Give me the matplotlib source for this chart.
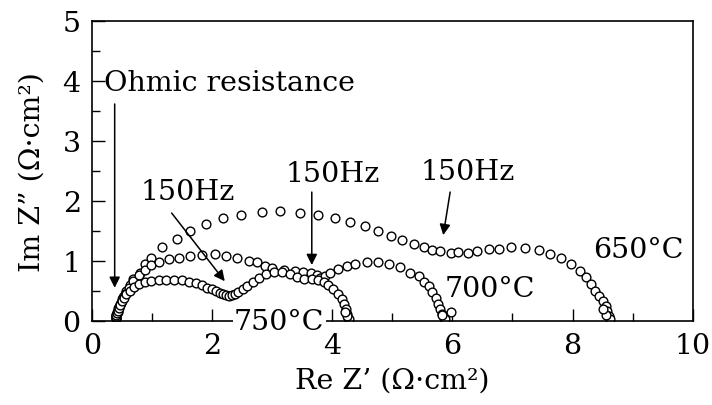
import matplotlib.pyplot as plt
from matplotlib.ticker import MultipleLocator

plt.rcParams['font.family'] = ['DejaVu Serif']
plt.rcParams['mathtext.fontset'] = 'dejavuserif'

# --- Nyquist data (Re Z', Im Z'') ---
re_750 = [0.40, 0.40, 0.41, 0.42, 0.43, 0.45, 0.47, 0.50, 0.53, 0.57, 0.63, 0.70,
          0.78, 0.88, 0.99, 1.11, 1.24, 1.37, 1.50, 1.62, 1.73, 1.83, 1.92, 2.00,
          2.07, 2.13, 2.18, 2.23, 2.28, 2.33, 2.38, 2.44, 2.51, 2.59, 2.68, 2.78,
          2.90, 3.03, 3.17, 3.30, 3.41, 3.53, 3.66, 3.77, 3.86, 3.93, 4.02, 4.10,
          4.16, 4.20, 4.23, 4.24, 4.27, 4.28, 4.25, 4.22]
im_750 = [0.03, 0.06, 0.09, 0.12, 0.16, 0.21, 0.26, 0.32, 0.38, 0.44, 0.50, 0.56,
          0.61, 0.64, 0.66, 0.67, 0.68, 0.68, 0.67, 0.65, 0.62, 0.59, 0.55, 0.52,
          0.49, 0.46, 0.44, 0.42, 0.41, 0.42, 0.44, 0.47, 0.52, 0.58, 0.64, 0.71,
          0.77, 0.81, 0.81, 0.78, 0.73, 0.70, 0.69, 0.68, 0.64, 0.60, 0.52, 0.44,
          0.36, 0.28, 0.19, 0.11, 0.05, 0.02, 0.08, 0.14]

re_700 = [0.40, 0.41, 0.42, 0.44, 0.47, 0.51, 0.56, 0.62, 0.69, 0.78, 0.88, 0.99,
          1.12, 1.28, 1.45, 1.63, 1.84, 2.05, 2.24, 2.41, 2.61, 2.74, 2.88, 3.00,
          3.19, 3.38, 3.52, 3.64, 3.74, 3.80, 3.88, 3.96, 4.10, 4.24, 4.38, 4.58,
          4.77, 4.94, 5.13, 5.30, 5.44, 5.52, 5.61, 5.66, 5.72, 5.76, 5.80, 5.83,
          5.86, 5.88, 5.82, 5.97]
im_700 = [0.05, 0.10, 0.15, 0.21, 0.28, 0.36, 0.45, 0.55, 0.66, 0.76, 0.85, 0.92,
          0.98, 1.02, 1.05, 1.08, 1.10, 1.11, 1.07, 1.05, 1.00, 0.97, 0.91, 0.87,
          0.84, 0.83, 0.81, 0.79, 0.76, 0.71, 0.75, 0.80, 0.86, 0.91, 0.94, 0.97,
          0.97, 0.94, 0.90, 0.80, 0.74, 0.65, 0.57, 0.47, 0.37, 0.27, 0.19, 0.11,
          0.05, 0.02, 0.09, 0.14]

re_650 = [0.40, 0.41, 0.43, 0.45, 0.48, 0.52, 0.57, 0.63, 0.69, 0.80, 0.88, 0.99,
          1.16, 1.41, 1.63, 1.90, 2.19, 2.49, 2.83, 3.13, 3.47, 3.77, 4.05, 4.30,
          4.55, 4.77, 4.98, 5.16, 5.36, 5.52, 5.66, 5.80, 5.97, 6.10, 6.26, 6.41,
          6.61, 6.77, 6.97, 7.20, 7.44, 7.63, 7.81, 7.98, 8.13, 8.22, 8.30, 8.38,
          8.44, 8.50, 8.55, 8.58, 8.60, 8.62, 8.55, 8.50]
im_650 = [0.04, 0.09, 0.15, 0.22, 0.30, 0.40, 0.50, 0.60, 0.69, 0.80, 0.94, 1.05,
          1.23, 1.36, 1.50, 1.61, 1.71, 1.76, 1.81, 1.82, 1.80, 1.76, 1.71, 1.65,
          1.57, 1.49, 1.41, 1.35, 1.28, 1.22, 1.18, 1.16, 1.13, 1.14, 1.13, 1.16,
          1.20, 1.20, 1.23, 1.21, 1.18, 1.11, 1.04, 0.94, 0.83, 0.72, 0.61, 0.50,
          0.41, 0.33, 0.25, 0.16, 0.08, 0.03, 0.10, 0.20]

fig = plt.figure(figsize=(7.12, 4.06), dpi=100)
ax = fig.add_axes([0.129, 0.208, 0.844, 0.738])

for xs, ys in [(re_650, im_650), (re_700, im_700), (re_750, im_750)]:
    ax.plot(xs, ys, 'o', ms=6.3, mfc='white', mec='black', mew=1.0, ls='none')

fs = 20.5

ax.set_xlim(0, 10)
ax.set_ylim(0, 5)
ax.xaxis.set_major_locator(MultipleLocator(2))
ax.xaxis.set_minor_locator(MultipleLocator(1))
ax.yaxis.set_major_locator(MultipleLocator(1))
ax.yaxis.set_minor_locator(MultipleLocator(0.5))
ax.tick_params(which='both', direction='in', labelsize=fs, width=1.0)
ax.tick_params(which='major', length=9)
ax.tick_params(which='minor', length=6)
ax.tick_params(axis='x', which='major', pad=8)
ax.tick_params(axis='y', which='major', pad=8)
for s in ax.spines.values():
    s.set_linewidth(1.2)

ax.set_xlabel('Re Z’ (Ω·cm²)', fontsize=fs, labelpad=6)
ax.set_ylabel('Im Z” (Ω·cm²)', fontsize=fs, labelpad=12)

arrow = dict(arrowstyle='-|>', color='black', lw=1.1, mutation_scale=16)

ax.text(0.2, 3.97, 'Ohmic resistance', fontsize=fs, ha='left', va='center')
ax.annotate('', xy=(0.38, 0.5), xytext=(0.38, 3.66), arrowprops=arrow)

ax.text(1.59, 2.16, '150Hz', fontsize=fs, ha='center', va='center')
ax.annotate('', xy=(2.24, 0.62), xytext=(1.3, 1.83), arrowprops=arrow)

ax.text(4.0, 2.46, '150Hz', fontsize=fs, ha='center', va='center')
ax.annotate('', xy=(3.66, 0.88), xytext=(3.66, 2.19), arrowprops=arrow)

ax.text(6.26, 2.48, '150Hz', fontsize=fs, ha='center', va='center')
ax.annotate('', xy=(5.84, 1.38), xytext=(5.97, 2.19), arrowprops=arrow)

ax.text(9.09, 1.18, '650°C', fontsize=fs, ha='center', va='center')
ax.text(6.63, 0.54, '700°C', fontsize=fs, ha='center', va='center')
ax.text(3.12, -0.02, '750°C', fontsize=fs, ha='center', va='center',
        bbox=dict(facecolor='white', edgecolor='none', pad=1), zorder=5)

fig.savefig('out.png', dpi=100)
